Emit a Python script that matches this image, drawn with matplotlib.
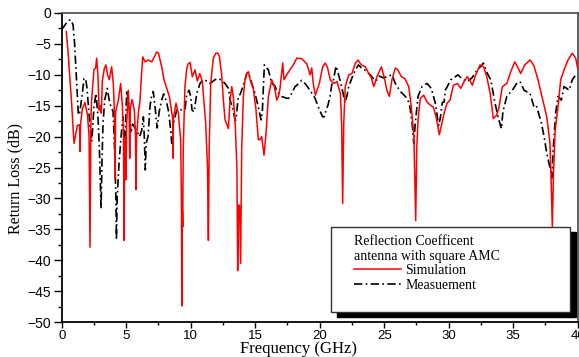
import numpy as np
import matplotlib
matplotlib.use("Agg")
import matplotlib.pyplot as plt
from matplotlib.patches import Rectangle
from matplotlib.ticker import MultipleLocator

# simulated return loss (red)
sim_freq = [0.35, 0.5, 0.62, 0.75, 0.95, 1.1, 1.21, 1.38, 1.42, 1.46, 1.6, 1.8, 2.0, 2.12, 2.19, 2.26,
            2.3, 2.5, 2.63, 2.71, 2.81, 2.9, 2.98, 3.07, 3.15, 3.3, 3.43, 3.55, 3.69, 3.8, 3.87, 4.0,
            4.08, 4.13, 4.18, 4.39, 4.57, 4.7, 4.79, 4.83, 4.88, 4.95, 4.98, 5.03, 5.16, 5.23, 5.27,
            5.31, 5.45, 5.63, 5.72, 5.76, 5.8, 5.95, 6.07, 6.2, 6.28, 6.46, 6.7, 6.98, 7.2, 7.36, 7.5,
            7.75, 7.93, 8.14, 8.34, 8.53, 8.6, 8.63, 8.66, 8.86, 9.04, 9.22, 9.28, 9.31, 9.35, 9.38,
            9.42, 9.55, 9.69, 9.81, 9.95, 10.12, 10.33, 10.51, 10.7, 10.9, 11.16, 11.3, 11.37, 11.43,
            11.55, 11.75, 11.95, 12.09, 12.22, 12.4, 12.53, 12.66, 12.8, 12.92, 13.05, 13.18, 13.3,
            13.45, 13.58, 13.64, 13.7, 13.78, 13.82, 13.87, 13.95, 14.08, 14.2, 14.34, 14.47, 14.6,
            14.85, 15.06, 15.24, 15.37, 15.5, 15.68, 15.84, 16.02, 16.28, 16.48, 16.67, 16.8, 16.92,
            17.13, 17.23, 17.44, 17.7, 17.95, 18.22, 18.6, 18.99, 19.25, 19.38, 19.5, 19.66, 19.97,
            20.23, 20.43, 20.6, 20.82, 21.08, 21.34, 21.6, 21.7, 21.78, 21.86, 21.98, 22.25, 22.5,
            22.76, 22.97, 23.22, 23.54, 23.8, 24.0, 24.19, 24.44, 24.78, 25.04, 25.2, 25.4, 25.6,
            25.86, 26.05, 26.33, 26.59, 26.9, 27.1, 27.3, 27.44, 27.52, 27.62, 27.8, 28.06, 28.32,
            28.57, 28.8, 29.02, 29.27, 29.48, 29.64, 29.87, 30.1, 30.36, 30.67, 30.93, 31.19, 31.44,
            31.6, 31.83, 32.09, 32.43, 32.7, 32.95, 33.21, 33.46, 33.72, 33.9, 34.16, 34.5, 34.81,
            35.12, 35.35, 35.58, 35.89, 36.3, 36.6, 36.92, 37.26, 37.6, 37.85, 37.95, 38.03, 38.12,
            38.25, 38.47, 38.68, 38.99, 39.25, 39.58, 39.84, 40.0]
sim_db = [-3.0, -6.5, -10.3, -14, -21.1, -19.5, -18.2, -18.1, -22.4, -18.0, -15.5, -14.5, -16.5, -20,
          -37.9, -18, -14.6, -9.2, -8.9, -7.3, -10.3, -15.7, -15, -16.2, -11, -9.0, -8.4, -10, -10.8,
          -9.5, -8.7, -11.4, -16, -26.7, -16, -14.1, -11.4, -15, -20, -36.8, -22, -20, -27.0, -18,
          -12.5, -16, -23.5, -15.5, -14, -15.7, -20, -28.6, -20, -16, -14.1, -9.5, -7.1, -7.9, -7.6,
          -7.9, -7.0, -6.3, -6.5, -8.7, -10.8, -12.2, -13.5, -16, -17, -23.5, -17, -14.6, -16.2,
          -20.5, -30, -47.4, -32, -34.6, -22, -12, -9.0, -8.2, -8.0, -10.3, -9.2, -11.0, -9.8, -11.1,
          -17.8, -25, -36.8, -22, -11.4, -7.3, -6.5, -6.5, -7.0, -10, -14.1, -17.3, -18, -18.7,
          -14.1, -11.9, -13.5, -18, -25, -41.7, -31.1, -31.1, -35, -40.5, -22, -13.5, -11, -9.8,
          -9.5, -10.8, -12.2, -15.7, -20.5, -20.5, -20.0, -23.0, -19.5, -13.5, -10.8, -11.9, -14.1,
          -13.5, -12.2, -8.1, -10.8, -10.0, -9.2, -8.4, -7.3, -7.4, -8.2, -10.0, -8.9, -11.4, -13.3,
          -11.4, -8.7, -8.1, -8.8, -10.8, -11.4, -11.1, -13, -18, -30.8, -18, -11.9, -10, -9.8,
          -8.1, -7.6, -8.4, -8.7, -9.8, -10.5, -11.9, -10.3, -8.7, -10.8, -12.5, -13.5, -10.8,
          -8.9, -9.2, -10.3, -10.6, -11.9, -15.2, -20, -33.6, -22, -17.3, -13.8, -13.3, -14.4,
          -14.9, -15.2, -16.8, -19.7, -17.8, -16.2, -14.6, -14.1, -11.7, -11.4, -12.2, -11.1, -10.3,
          -10.8, -11.7, -10.0, -8.4, -8.7, -10.3, -13.0, -17.1, -16.5, -15.2, -11.9, -11.4, -9.5,
          -7.9, -8.8, -9.8, -8.4, -7.6, -8.5, -10.8, -13.8, -16.8, -21.1, -28, -34.6, -26,
          -19, -15.2, -10.8, -8.9, -7.6, -6.5, -7.3, -9.0]

# measured return loss (black dash-dot)
meas_freq = [0.0, 0.3, 0.55, 0.69, 0.88, 1.0, 1.13, 1.29, 1.39, 1.57, 1.73, 1.85, 1.95, 2.09, 2.2, 2.33,
             2.5, 2.66, 2.81, 2.92, 3.0, 3.05, 3.12, 3.2, 3.33, 3.53, 3.72, 3.9, 3.98, 4.1, 4.2, 4.24,
             4.3, 4.45, 4.6, 4.75, 4.85, 4.9, 4.95, 5.04, 5.15, 5.27, 5.35, 5.5, 5.65, 5.78, 6.04,
             6.2, 6.33, 6.4, 6.48, 6.55, 6.69, 6.85, 6.98, 7.1, 7.26, 7.4, 7.55, 7.75, 7.9, 8.1,
             8.26, 8.4, 8.53, 8.65, 8.91, 9.1, 9.3, 9.56, 9.69, 9.87, 10.0, 10.1, 10.26, 10.47, 10.72,
             10.98, 11.25, 11.5, 11.88, 12.14, 12.4, 12.66, 12.92, 13.05, 13.3, 13.43, 13.51, 13.69,
             13.82, 13.95, 14.21, 14.34, 14.47, 14.73, 14.98, 15.24, 15.45, 15.55, 15.71, 16.02,
             16.28, 16.53, 16.67, 16.92, 17.05, 17.44, 17.6, 17.83, 18.09, 18.22, 18.6, 18.9, 19.25,
             19.64, 19.89, 20.05, 20.23, 20.35, 20.49, 20.64, 20.8, 20.95, 21.05, 21.26, 21.4, 21.71,
             21.96, 22.1, 22.25, 22.5, 22.74, 23.0, 23.2, 23.54, 23.92, 24.29, 24.44, 24.62, 24.9,
             25.22, 25.6, 25.86, 26.25, 26.64, 26.95, 27.16, 27.29, 27.4, 27.62, 27.93, 28.32, 28.65,
             28.96, 29.22, 29.35, 29.5, 29.64, 29.74, 30.16, 30.45, 30.72, 31.0, 31.44, 31.8, 32.22,
             32.5, 32.69, 33.0, 33.26, 33.57, 33.82, 34.08, 34.2, 34.5, 34.93, 35.27, 35.53, 35.84,
             36.3, 36.61, 36.8, 37.18, 37.39, 37.6, 37.77, 37.9, 38.0, 38.1, 38.29, 38.47, 38.73,
             38.94, 39.15, 39.33, 39.58, 39.84, 40.0]
meas_db = [-2.7, -1.8, -1.2, -1.1, -1.9, -5, -10.3, -16.5, -16.2, -13.5, -10.6, -10.6, -12, -15.7,
           -18.5, -20.8, -15.2, -13.0, -16.8, -22, -28, -31.6, -24, -18, -14.1, -12.2, -14.6, -15.5,
           -16.0, -22, -30, -36.7, -30, -24, -20, -16.8, -20, -25, -18, -12.5, -14, -15.7, -19.5,
           -18, -18.5, -18.9, -20, -19, -16.8, -20, -25.4, -21, -20, -15, -13.3, -12.7, -15.7,
           -18.6, -16, -14.1, -13.1, -14.2, -15.7, -18, -21.1, -18, -15.7, -15.5, -15.7, -15.5,
           -13.2, -12.5, -13.5, -15.7, -16.0, -13, -11.4, -10.8, -11.0, -11.4, -10.8, -10.6, -10.9,
           -11.4, -12.2, -14.1, -15.7, -17.3, -17.3, -13.5, -13.2, -12.5, -10.8, -9.8, -9.6, -11.4,
           -13.0, -15.2, -17.3, -16, -8.4, -9.2, -11.4, -11.8, -12.7, -13.2, -13.5, -13.8, -13.8,
           -13.0, -11.9, -11.7, -10.9, -11.5, -12.5, -13.8, -15.2, -16.0, -16.8, -16.8, -15.7,
           -14.9, -13.5, -11.4, -11.0, -8.6, -9.5, -12, -14.5, -13.5, -11.9, -10.5, -9.3, -8.4,
           -8.8, -9.3, -10.0, -11.0, -10.8, -10.2, -10.5, -10.3, -10.0, -11.4, -12.7, -13.5, -14.6,
           -17.8, -21.1, -18, -13.5, -11.9, -11.4, -12.2, -14.6, -18.2, -17, -14.5, -14.4, -12.5,
           -10.8, -10.4, -10.0, -10.6, -11.1, -10.5, -9.2, -8.6, -8.1, -9.8, -10.8, -14.4, -16.8,
           -18.7, -16, -13.5, -12.5, -11.4, -11.1, -12.5, -13.0, -15.2, -15, -17.8, -20.0, -22.7,
           -24.3, -25.4, -26.7, -22, -16.2, -13.5, -14.1, -11.9, -12.2, -12.5, -10.8, -10.0, -10.3]

legend_title = "Reflection Coefficent\nantenna with square AMC"
sim_label = "Simulation"
meas_label = "Measuement"

serif = ["Liberation Serif", "DejaVu Serif"]
sans = ["Liberation Sans", "DejaVu Sans"]

fig = plt.figure(figsize=(5.79, 3.57), dpi=100)
ax = fig.add_axes([0.1066, 0.098, 0.8912, 0.8656])

ax.plot(sim_freq, sim_db, color="#ff0000", lw=1.1, label=sim_label, zorder=3)
ax.plot(meas_freq, meas_db, color="black", lw=1.2, ls=(0, (5, 2, 1, 2)), label=meas_label, zorder=2)

ax.set_xlim(0, 40)
ax.set_ylim(-50, 0)
ax.xaxis.set_major_locator(MultipleLocator(5))
ax.xaxis.set_minor_locator(MultipleLocator(2.5))
ax.yaxis.set_major_locator(MultipleLocator(5))
ax.yaxis.set_minor_locator(MultipleLocator(2.5))

ax.tick_params(axis="y", which="major", direction="out", length=6, width=1, pad=1.5, labelsize=10)
ax.tick_params(axis="y", which="minor", direction="out", length=3, width=1)
ax.tick_params(axis="x", which="major", direction="out", length=4, width=1, pad=2, labelsize=9.5)
ax.tick_params(axis="x", which="minor", direction="out", length=2.5, width=1)
for lab in ax.get_xticklabels() + ax.get_yticklabels():
    lab.set_family(sans)

for s in ["left", "bottom"]:
    ax.spines[s].set_color("black")
    ax.spines[s].set_linewidth(1.3)
for s in ["top", "right"]:
    ax.spines[s].set_color("#555555")
    ax.spines[s].set_linewidth(1.3)

# x label sits low, partly beside the tick labels like in the source figure
ax.set_xlabel("Frequency (GHz)", family=serif, fontsize=12, va="bottom")
ax.xaxis.set_label_coords(0.459, -35.0 / 309)
ax.set_ylabel("Return Loss (dB)", family=serif, fontsize=11.5, va="center")
ax.yaxis.set_label_coords(-0.089, 0.466)

# legend box with black drop shadow
bx, by, bw, bh = 0.5219, 0.0324, 0.4632, 0.275
ax.add_patch(Rectangle((bx + 0.012, by - 0.016), bw, bh, transform=ax.transAxes,
                       facecolor="black", edgecolor="black", clip_on=False, zorder=5))
ax.add_patch(Rectangle((bx, by), bw, bh, transform=ax.transAxes,
                       facecolor="white", edgecolor="#333333", lw=1, clip_on=False, zorder=6))

leg = ax.legend(loc="upper left", bbox_to_anchor=(0.566, 0.282), frameon=False,
                title=legend_title, alignment="left", borderpad=0, borderaxespad=0,
                prop={"family": serif, "size": 10}, title_fontproperties={"family": serif, "size": 10},
                handlelength=3.4, handletextpad=0.3, labelspacing=0.1)
leg.set_zorder(7)

fig.savefig("out.png", dpi=100)
